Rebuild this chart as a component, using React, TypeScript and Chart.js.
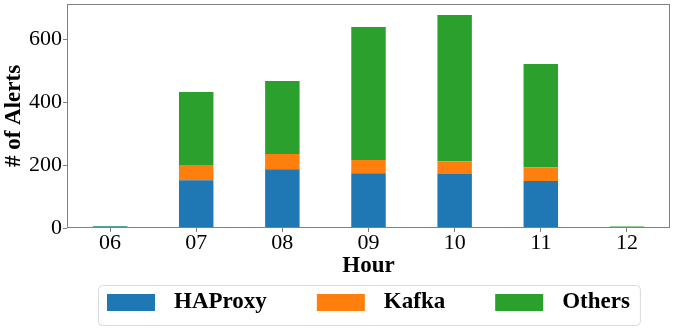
import React, { useEffect, useRef } from 'react';
import { Chart, registerables } from 'chart.js';

Chart.register(...registerables);

const hours = ['06', '07', '08', '09', '10', '11', '12'];
const haproxy = [5, 152, 187, 174, 173, 149, 2];
const kafka = [0, 48, 48, 42, 39, 44, 0];
const others = [1, 232, 232, 423, 465, 328, 3];
const yTicks = [0, 200, 400, 600];
const yMax = 712;
const seriesNames = ['HAProxy', 'Kafka', 'Others'];
const seriesColors = ['#1f77b4', '#ff7f0e', '#2ca02c'];

const FONT = '"Liberation Serif", "Times New Roman", Times, serif';
const AXIS_COLOR = '#808080';

const framePlugin = {
  id: 'frameAndLegend',
  afterDraw(chart: any) {
    const ctx = chart.ctx as CanvasRenderingContext2D;
    const ca = chart.chartArea;
    ctx.save();
    // axes frame
    ctx.strokeStyle = AXIS_COLOR;
    ctx.lineWidth = 1;
    ctx.strokeRect(ca.left + 0.5, ca.top + 0.5, ca.right - ca.left - 1, ca.bottom - ca.top - 1);

    // legend
    const fontSize = 23;
    ctx.font = `bold ${fontSize}px ${FONT}`;
    const swW = 48;
    const swH = 17;
    const gapText = 19;
    const gapItem = 50;
    const padL = 9;
    const padR = 10;
    const widths = chart.data.datasets.map((d: any) => ctx.measureText(d.label).width);
    const itemsW = widths.reduce((a: number, w: number) => a + swW + gapText + w, 0) + gapItem * (widths.length - 1);
    const boxW = padL + itemsW + padR;
    const cx = (ca.left + ca.right) / 2;
    const boxX = Math.round(cx - boxW / 2) + 0.5;
    const boxY = 285.5;
    const boxH = 40;
    const r = 4;
    ctx.beginPath();
    ctx.moveTo(boxX + r, boxY);
    ctx.lineTo(boxX + boxW - r, boxY);
    ctx.arcTo(boxX + boxW, boxY, boxX + boxW, boxY + r, r);
    ctx.lineTo(boxX + boxW, boxY + boxH - r);
    ctx.arcTo(boxX + boxW, boxY + boxH, boxX + boxW - r, boxY + boxH, r);
    ctx.lineTo(boxX + r, boxY + boxH);
    ctx.arcTo(boxX, boxY + boxH, boxX, boxY + boxH - r, r);
    ctx.lineTo(boxX, boxY + r);
    ctx.arcTo(boxX, boxY, boxX + r, boxY, r);
    ctx.closePath();
    ctx.fillStyle = '#ffffff';
    ctx.fill();
    ctx.strokeStyle = '#dadada';
    ctx.stroke();

    let x = boxX - 0.5 + padL;
    const midY = 302.5;
    chart.data.datasets.forEach((d: any, i: number) => {
      ctx.fillStyle = d.backgroundColor;
      ctx.fillRect(x, midY - swH / 2, swW, swH);
      x += swW + gapText;
      ctx.fillStyle = '#000000';
      ctx.textBaseline = 'middle';
      ctx.textAlign = 'left';
      ctx.fillText(d.label, x, midY);
      x += widths[i] + gapItem;
    });
    ctx.restore();
  },
};

export default function App() {
  const canvasRef = useRef<HTMLCanvasElement | null>(null);

  useEffect(() => {
    document.body.style.margin = '0';
    const canvas = canvasRef.current;
    if (!canvas) return;
    const seriesData = [haproxy, kafka, others];
    const chart = new Chart(canvas, {
      type: 'bar',
      data: {
        labels: hours,
        datasets: seriesNames.map((name, i) => ({
          label: name,
          data: seriesData[i],
          backgroundColor: seriesColors[i],
          borderWidth: 0,
          barPercentage: 0.4,
          categoryPercentage: 1.0,
        })),
      },
      options: {
        responsive: false,
        animation: false,
        devicePixelRatio: 1,
        layout: { padding: { top: 4, right: 4, bottom: 50, left: 0 } },
        plugins: {
          legend: { display: false },
          tooltip: { enabled: false },
        },
        scales: {
          x: {
            stacked: true,
            offset: true,
            border: { display: false },
            grid: {
              display: true,
              drawOnChartArea: false,
              drawTicks: true,
              tickLength: 4,
              offset: false,
              color: AXIS_COLOR,
            },
            ticks: {
              color: '#000000',
              font: { family: FONT, size: 22, lineHeight: 1 },
              padding: 0,
              maxRotation: 0,
              autoSkip: false,
            },
            title: {
              display: true,
              text: 'Hour',
              color: '#000000',
              font: { family: FONT, size: 23, weight: 'bold', lineHeight: 1.2 },
              padding: { top: 0, bottom: 0 },
            },
            afterFit(scale: any) {
              scale.height = 52;
              scale.paddingLeft = 0;
              scale.paddingRight = 0;
            },
          },
          y: {
            stacked: true,
            min: 0,
            max: yMax,
            border: { display: false },
            grid: {
              display: true,
              drawOnChartArea: false,
              drawTicks: true,
              tickLength: 4,
              color: AXIS_COLOR,
            },
            ticks: {
              color: '#000000',
              font: { family: FONT, size: 22, lineHeight: 1 },
              padding: 1,
            },
            afterBuildTicks(scale: any) {
              scale.ticks = yTicks.map((v) => ({ value: v }));
            },
            title: {
              display: true,
              text: '# of Alerts',
              color: '#000000',
              font: { family: FONT, size: 23, weight: 'bold', lineHeight: 1.2 },
              padding: { top: 0, bottom: 0 },
            },
            afterFit(scale: any) {
              scale.width = 67;
              scale.paddingTop = 0;
              scale.paddingBottom = 0;
            },
          },
        },
      },
      plugins: [framePlugin],
    });
    return () => chart.destroy();
  }, []);

  return (
    <div style={{ width: 674, height: 330 }}>
      <canvas ref={canvasRef} width={674} height={330} style={{ display: 'block' }} />
    </div>
  );
}
